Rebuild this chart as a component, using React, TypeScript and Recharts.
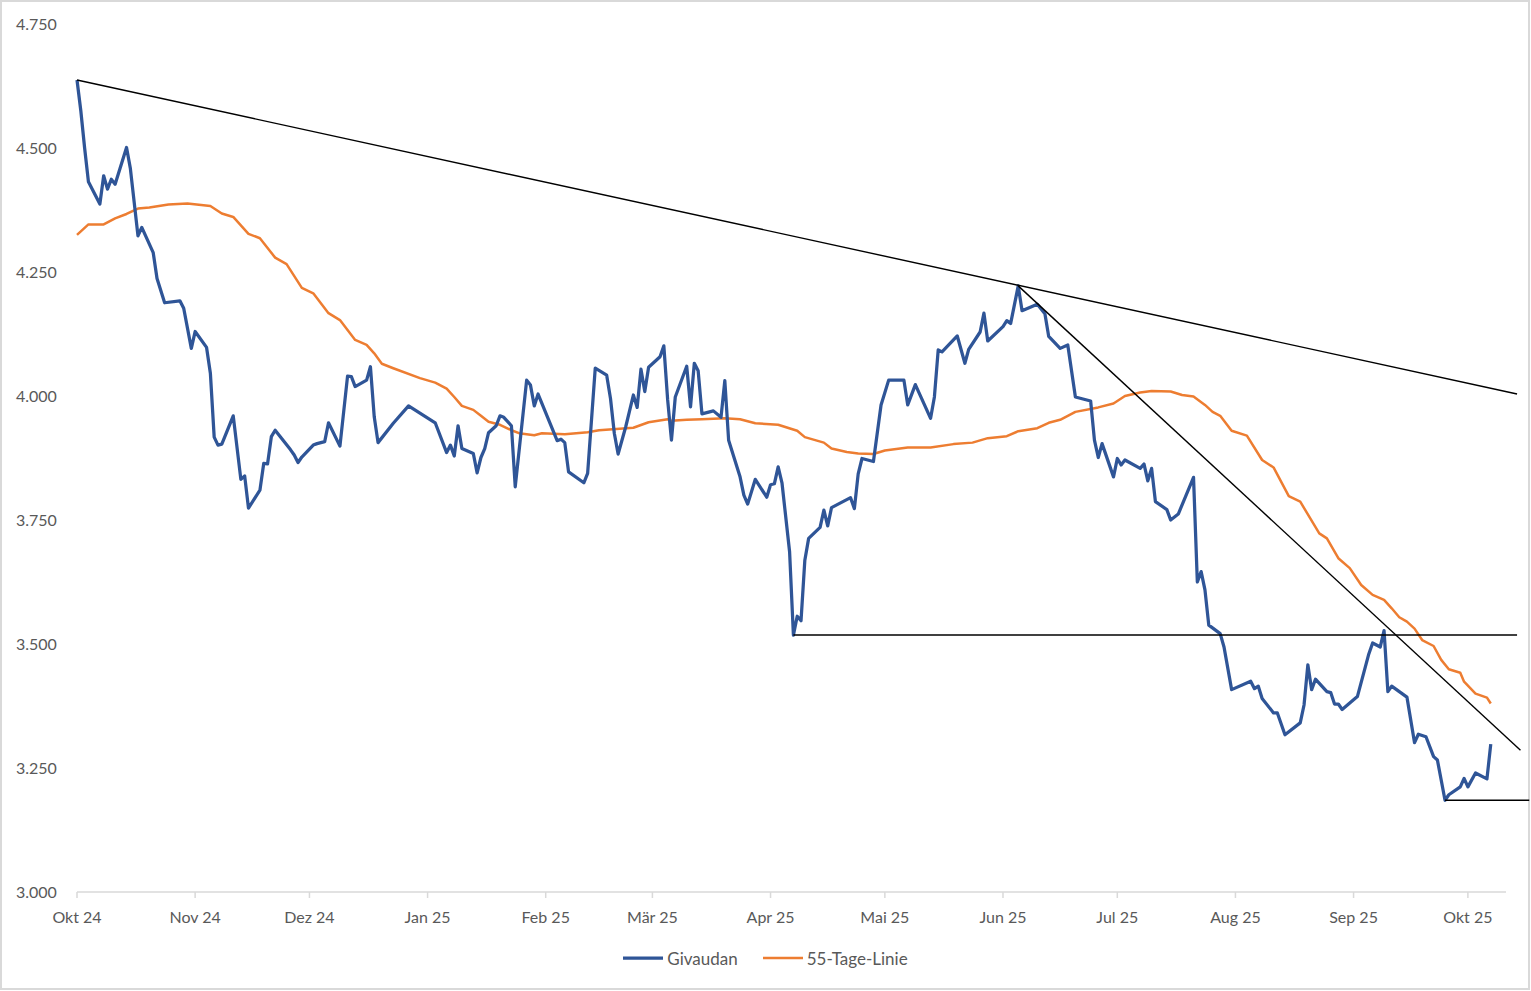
import React from 'react';
import { LineChart, Line, XAxis, YAxis, ReferenceLine, Legend } from 'recharts';

// x values: calendar days since 1 Oct 2024
const GIVAUDAN_DAYS = [
  0, 1, 2, 3, 6, 7, 8, 9, 10, 13,
  14, 16, 17, 20, 21, 23, 27, 28, 30, 31,
  34, 35, 36, 37, 38, 41, 43, 44, 45, 48,
  49, 50, 51, 52, 56, 57, 58, 59, 62, 63,
  65, 66, 69, 71, 72, 73, 76, 77, 78, 79,
  83, 87, 94, 97, 98, 99, 100, 101, 104, 105,
  106, 107, 108, 110, 111, 112, 114, 115, 118, 119,
  120, 121, 126, 127, 128, 129, 133, 134, 136, 139,
  140, 141, 142, 144, 146, 147, 148, 149, 150, 153,
  154, 155, 156, 157, 160, 161, 162, 163, 164, 167,
  169, 170, 171, 174, 175, 176, 178, 181, 182, 183,
  184, 185, 187, 188, 189, 190, 191, 192, 195, 196,
  197, 198, 203, 204, 205, 206, 209, 211, 213, 217,
  218, 220, 224, 225, 226, 227, 231, 233, 234, 237,
  238, 239, 243, 244, 245, 247, 248, 252, 254, 255,
  258, 260, 262, 266, 267, 268, 269, 272, 273, 274,
  275, 279, 280, 281, 282, 283, 286, 287, 289, 293,
  294, 295, 296, 297, 300, 301, 303, 308, 309, 310,
  311, 314, 315, 317, 321, 322, 323, 324, 325, 328,
  329, 330, 331, 332, 336, 339, 340, 342, 343, 344,
  345, 349, 351, 352, 354, 356, 357, 359, 360, 363,
  364, 365, 367, 370, 371,
];

const GIVAUDAN_VALUES = [
  4637, 4575, 4500, 4432, 4387, 4444, 4417, 4437, 4427, 4501,
  4459, 4323, 4340, 4289, 4237, 4188, 4192, 4177, 4096, 4130,
  4098, 4046, 3917, 3901, 3903, 3960, 3832, 3839, 3774, 3810,
  3864, 3863, 3918, 3931, 3892, 3881, 3866, 3877, 3901, 3904,
  3908, 3946, 3899, 4040, 4039, 4019, 4032, 4059, 3958, 3906,
  3945, 3980, 3946, 3886, 3901, 3879, 3940, 3894, 3884, 3845,
  3876, 3894, 3926, 3940, 3960, 3957, 3940, 3817, 4032, 4022,
  3980, 4004, 3910, 3913, 3906, 3847, 3825, 3844, 4056, 4042,
  3995, 3925, 3883, 3938, 4002, 3977, 4054, 4009, 4058, 4079,
  4101, 3992, 3911, 3998, 4060, 3978, 4066, 4051, 3964, 3970,
  3957, 4031, 3911, 3837, 3800, 3782, 3832, 3796, 3821, 3823,
  3857, 3825, 3686, 3518, 3556, 3547, 3669, 3713, 3735, 3770,
  3738, 3775, 3795, 3773, 3843, 3874, 3868, 3982, 4032, 4032,
  3982, 4023, 3955, 3998, 4093, 4089, 4121, 4066, 4094, 4129,
  4167, 4111, 4140, 4152, 4146, 4222, 4172, 4185, 4166, 4120,
  4096, 4103, 3998, 3990, 3911, 3876, 3904, 3837, 3874, 3861,
  3871, 3854, 3863, 3829, 3854, 3787, 3771, 3750, 3762, 3836,
  3625, 3646, 3609, 3538, 3521, 3494, 3408, 3425, 3410, 3415,
  3390, 3361, 3361, 3317, 3341, 3377, 3458, 3408, 3429, 3404,
  3402, 3379, 3379, 3368, 3394, 3480, 3502, 3494, 3527, 3404,
  3415, 3393, 3301, 3318, 3313, 3273, 3266, 3185, 3196, 3212,
  3229, 3212, 3240, 3228, 3298,
];

const MA55_DAYS = [
  0, 3, 7, 10, 13, 16, 19, 24, 29, 35,
  38, 41, 45, 48, 52, 55, 59, 62, 66, 69,
  73, 76, 78, 80, 83, 90, 94, 97, 99, 101,
  104, 106, 108, 111, 114, 116, 120, 122, 128, 134,
  137, 146, 150, 155, 156, 160, 164, 170, 174, 178,
  184, 189, 191, 196, 198, 202, 205, 209, 212, 218,
  224, 230, 235, 239, 244, 247, 252, 255, 258, 262,
  268, 272, 275, 279, 282, 287, 290, 293, 296, 298,
  300, 303, 307, 311, 314, 318, 321, 326, 328, 331,
  334, 337, 340, 343, 345, 347, 349, 351, 353, 356,
  358, 360, 363, 364, 367, 370, 371,
];

const MA55_VALUES = [
  4325, 4346, 4346, 4358, 4367, 4378, 4380, 4386, 4388, 4383,
  4368, 4361, 4327, 4318, 4279, 4266, 4218, 4207, 4167, 4153,
  4113, 4103, 4086, 4065, 4056, 4036, 4027, 4015, 3998, 3980,
  3972, 3960, 3948, 3942, 3931, 3925, 3921, 3925, 3923, 3927,
  3931, 3936, 3947, 3953, 3950, 3952, 3953, 3955, 3953, 3945,
  3942, 3930, 3917, 3906, 3894, 3887, 3884, 3883, 3890, 3896,
  3896, 3903, 3906, 3915, 3919, 3929, 3935, 3946, 3952, 3968,
  3977, 3985, 4000, 4007, 4010, 4009, 4002, 3999, 3982, 3968,
  3960, 3930, 3920, 3871, 3856, 3798, 3787, 3723, 3713, 3673,
  3653, 3619, 3599, 3589, 3572, 3554, 3545, 3531, 3508, 3496,
  3468, 3449, 3442, 3424, 3400, 3392, 3380,
];

const MONTH_TICKS = [0, 31, 61, 92, 123, 151, 182, 212, 243, 273, 304, 335, 365];
const MONTH_LABELS = ['Okt 24', 'Nov 24', 'Dez 24', 'Jan 25', 'Feb 25', 'Mär 25', 'Apr 25', 'Mai 25', 'Jun 25', 'Jul 25', 'Aug 25', 'Sep 25', 'Okt 25'];
const Y_TICKS = [3000, 3250, 3500, 3750, 4000, 4250, 4500, 4750];

// trend lines: [startDay, startValue, endDay, endValue]
const TREND_LINES = [
  [0, 4637, 377.9, 4004],
  [247, 4222, 378.8, 3286],
  [188, 3518, 377.9, 3518],
  [359, 3185, 381.1, 3185],
];

const SERIES_NAMES = ['Givaudan', '55-Tage-Linie'];
const BLUE = '#2F5597';
const ORANGE = '#ED7D31';
const TEXT = '#595959';
const FONT = 'Lato, "Open Sans", sans-serif';

const givaudanData = GIVAUDAN_DAYS.map((d, i) => ({ day: d, value: GIVAUDAN_VALUES[i] }));
const maData = MA55_DAYS.map((d, i) => ({ day: d, value: MA55_VALUES[i] }));

const fmtThousands = (v: number) => {
  const s = String(Math.round(v));
  return s.length > 3 ? s.slice(0, s.length - 3) + '.' + s.slice(s.length - 3) : s;
};

const YTick = (props: any) => {
  const { y, payload } = props;
  return (
    <text x={16} y={y + 6} fill={TEXT} fontSize={16} fontFamily={FONT} textAnchor="start">
      {fmtThousands(payload.value)}
    </text>
  );
};

const XTick = (props: any) => {
  const { x, y, payload } = props;
  const idx = MONTH_TICKS.indexOf(payload.value);
  return (
    <text x={x} y={y + 23} fill={TEXT} fontSize={16} fontFamily={FONT} textAnchor="middle">
      {idx >= 0 ? MONTH_LABELS[idx] : ''}
    </text>
  );
};

const LegendContent = () => (
  <div
    style={{
      display: 'flex',
      justifyContent: 'center',
      alignItems: 'center',
      height: 30,
      fontFamily: FONT,
      fontSize: 17,
      color: TEXT,
    }}
  >
    <div style={{ display: 'flex', alignItems: 'center', marginRight: 24 }}>
      <svg width={42} height={6} style={{ display: 'block' }}>
        <line x1={1} y1={3} x2={41} y2={3} stroke={BLUE} strokeWidth={3.25} />
      </svg>
      <span style={{ marginLeft: 3 }}>{SERIES_NAMES[0]}</span>
    </div>
    <div style={{ display: 'flex', alignItems: 'center' }}>
      <svg width={42} height={6} style={{ display: 'block' }}>
        <line x1={1} y1={3} x2={41} y2={3} stroke={ORANGE} strokeWidth={2.5} />
      </svg>
      <span style={{ marginLeft: 3 }}>{SERIES_NAMES[1]}</span>
    </div>
  </div>
);

export default function App() {
  return (
    <div style={{ position: 'absolute', left: 0, top: 0, width: 1530, height: 990, background: '#fff' }}>
      <div
        style={{
          position: 'absolute',
          left: 0,
          top: 0,
          width: 1530,
          height: 990,
          boxSizing: 'border-box',
          border: '2px solid #d9d9d9',
          pointerEvents: 'none',
        }}
      />
      <LineChart
        width={1530}
        height={990}
        margin={{ top: 24, right: 24, bottom: 17, left: 17 }}
        style={{ position: 'absolute', left: 0, top: 0 }}
      >
        <XAxis
          dataKey="day"
          type="number"
          domain={[0, 375]}
          ticks={MONTH_TICKS}
          interval={0}
          axisLine={{ stroke: '#d9d9d9', strokeWidth: 1.5 }}
          tickLine={{ stroke: '#d9d9d9', strokeWidth: 1.5 }}
          tickSize={6}
          tickMargin={2}
          height={51}
          tick={(p: any) => <XTick {...p} />}
        />
        <YAxis
          type="number"
          domain={[3000, 4750]}
          ticks={Y_TICKS}
          interval={0}
          axisLine={false}
          tickLine={false}
          width={60}
          tick={(p: any) => <YTick {...p} />}
        />
        <Legend
          verticalAlign="bottom"
          height={30}
          wrapperStyle={{ left: 0, width: 1530, bottom: 17, height: 30 }}
          content={() => <LegendContent />}
        />
        <Line
          data={maData}
          dataKey="value"
          name={SERIES_NAMES[1]}
          stroke={ORANGE}
          strokeWidth={2.5}
          dot={false}
          activeDot={false}
          isAnimationActive={false}
          strokeLinejoin="round"
        />
        <Line
          data={givaudanData}
          dataKey="value"
          name={SERIES_NAMES[0]}
          stroke={BLUE}
          strokeWidth={3.25}
          dot={false}
          activeDot={false}
          isAnimationActive={false}
          strokeLinejoin="round"
        />
        {TREND_LINES.map((t, i) => (
          <ReferenceLine
            key={i}
            segment={[
              { x: t[0], y: t[1] },
              { x: t[2], y: t[3] },
            ]}
            stroke="#000"
            strokeWidth={1.4}
            ifOverflow="visible"
          />
        ))}
      </LineChart>
    </div>
  );
}
